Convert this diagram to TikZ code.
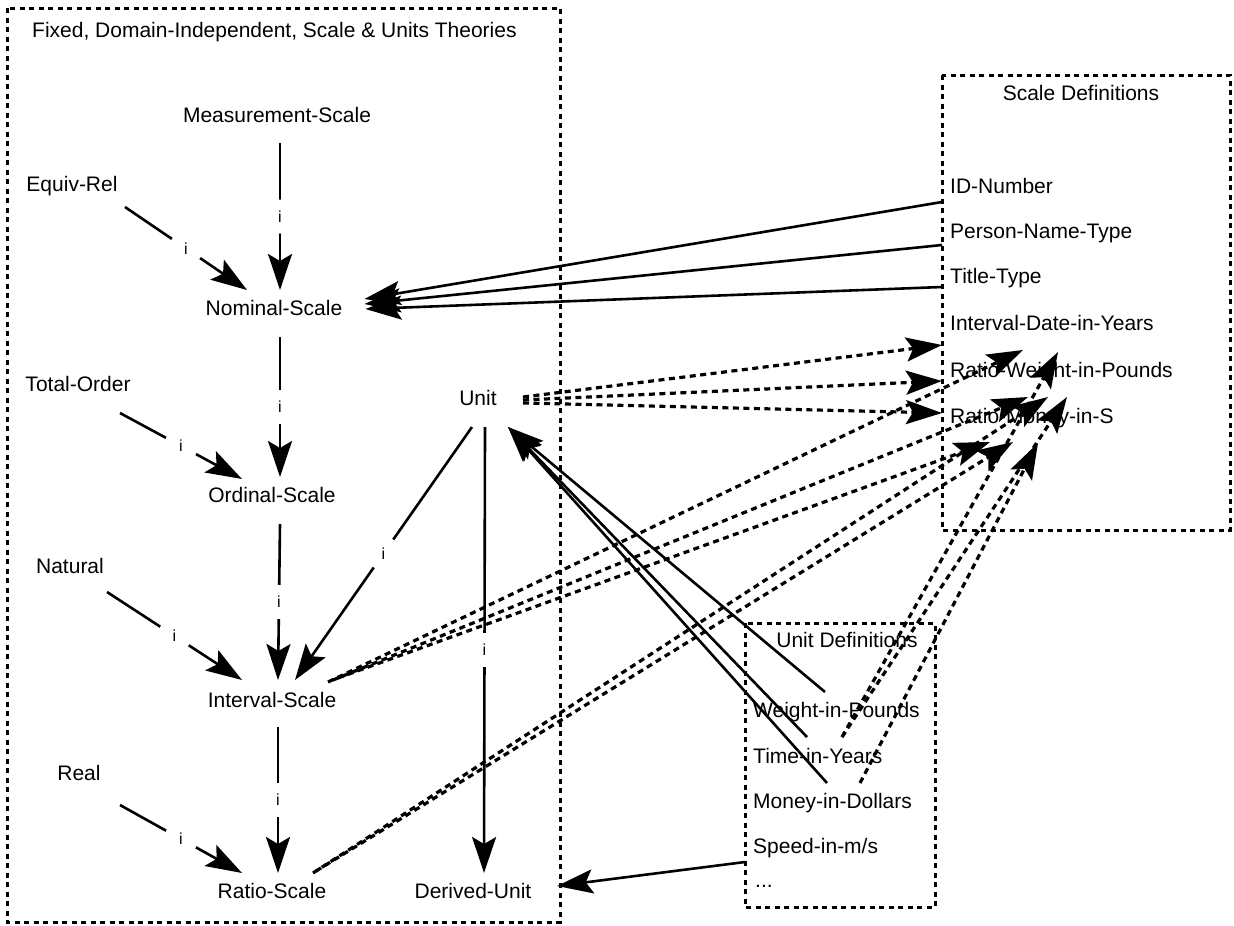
\documentclass[tikz,border=0pt]{standalone}
\usepackage{fontspec}
\setmainfont{Liberation Sans}
\usetikzlibrary{arrows.meta}
\begin{document}
\begin{tikzpicture}[x=1pt,y=-1pt,
  lbl/.style={inner sep=0pt, text height=15pt, text depth=4.5pt, font=\fontsize{21}{24}\selectfont},
  frame/.style={draw, line width=3pt, dash pattern=on 5pt off 4.5pt},
  tip/.style={-{Stealth[length=36pt,width=24pt,inset=7pt]}},
  isa/.style={tip, line width=2.6pt},
  link/.style={tip, line width=2.6pt},
  ref/.style={tip, line width=3.2pt, dash pattern=on 6pt off 4.5pt},
  ilab/.style={circle, fill=white, inner sep=0pt, minimum size=34pt, font=\fontsize{16}{18}\selectfont},
]
\useasboundingbox (0,0) rectangle (1234,926);

% frames
\draw[frame] (7,8) rectangle (560,922);
\draw[frame] (942,75) rectangle (1230,530);
\draw[frame] (745,623) rectangle (935,907);

% fixed theories
\node[lbl, anchor=west] (title) at (32,32) {Fixed, Domain-Independent, Scale \& Units Theories};
\node[lbl] (meas) at (277,117) {Measurement-Scale};
\node[lbl] (equiv) at (72,186) {Equiv-Rel};
\node[lbl] (nominal) at (274,310) {Nominal-Scale};
\node[lbl] (total) at (78,386) {Total-Order};
\node[lbl] (ordinal) at (272,497) {Ordinal-Scale};
\node[lbl] (natural) at (70,568) {Natural};
\node[lbl] (interval) at (272,702) {Interval-Scale};
\node[lbl] (real) at (79,775) {Real};
\node[lbl] (ratio) at (272,893) {Ratio-Scale};
\node[lbl] (derived) at (473,893) {Derived-Unit};
\node[lbl] (unit) at (478,400) {Unit};

% scale definitions
\node[lbl] (sdtitle) at (1081,95) {Scale Definitions};
\node[lbl, anchor=west] (idnum) at (950,188) {ID-Number};
\node[lbl, anchor=west] (person) at (950,233) {Person-Name-Type};
\node[lbl, anchor=west] (titletype) at (950,278) {Title-Type};
\node[lbl, anchor=west] (intdate) at (950,325) {Interval-Date-in-Years};
\node[lbl, anchor=west] (ratiow) at (950,372) {Ratio-Weight-in-Pounds};
\node[lbl, anchor=west] (ratiom) at (950,418) {Ratio-Money-in-S};

% unit definitions
\node[lbl] (udtitle) at (847,642) {Unit Definitions};
\node[lbl, anchor=west] (weight) at (753,712) {Weight-in-Pounds};
\node[lbl, anchor=west] (time) at (753,758) {Time-in-Years};
\node[lbl, anchor=west] (money) at (753,803) {Money-in-Dollars};
\node[lbl, anchor=west] (speed) at (753,848) {Speed-in-m/s};
\node[lbl, anchor=west] (more) at (755,882) {...};

% instance links of the scale hierarchy
\draw[isa] ([shift={(3,26)}]meas.center) -- node[ilab]{i} ([shift={(6,-20)}]nominal.center);
\draw[isa] ([shift={(6,27)}]nominal.center) -- node[ilab]{i} ([shift={(8,-20)}]ordinal.center);
\draw[isa] ([shift={(8,27)}]ordinal.center) -- node[ilab]{i} ([shift={(6,-22)}]interval.center);
\draw[isa] ([shift={(6,25)}]interval.center) -- node[ilab]{i} ([shift={(6,-20)}]ratio.center);
\draw[isa] ([shift={(53,21)}]equiv.center) -- node[ilab]{i} ([shift={(-27,-20)}]nominal.center);
\draw[isa] ([shift={(42,27)}]total.center) -- node[ilab]{i} ([shift={(-30,-18)}]ordinal.center);
\draw[isa] ([shift={(37,24)}]natural.center) -- node[ilab]{i} ([shift={(-30,-22)}]interval.center);
\draw[isa] ([shift={(41,30)}]real.center) -- node[ilab]{i} ([shift={(-30,-20)}]ratio.center);
\draw[isa] ([shift={(-6,27)}]unit.center) -- node[ilab]{i} ([shift={(23,-22)}]interval.center);
\draw[isa] ([shift={(7,27)}]unit.center) -- node[ilab]{i} ([shift={(11,-20)}]derived.center);

% scale definitions to nominal scale
\draw[link] ([shift={(-8,14)}]idnum.west) -- ([shift={(22,-11)}]nominal.east);
\draw[link] ([shift={(-8,12)}]person.west) -- ([shift={(22,-6)}]nominal.east);
\draw[link] ([shift={(-8,9)}]titletype.west) -- ([shift={(23,-1)}]nominal.east);

% unit definitions to unit / derived unit
\draw[link] ([shift={(72,-20)}]weight.west) -- ([shift={(30,27)}]unit.center);
\draw[link] ([shift={(54,-21)}]time.west) -- ([shift={(30,27)}]unit.center);
\draw[link] ([shift={(74,-20)}]money.west) -- ([shift={(30,27)}]unit.center);
\draw[link] ([shift={(-8,14)}]speed.west) -- ([shift={(84,-7)}]derived.center);

% references into the scale definitions
\draw[ref] ([shift={(45,-3)}]unit.center) -- ([shift={(-8,20)}]intdate.west);
\draw[ref] ([shift={(45,0)}]unit.center) -- ([shift={(-8,9)}]ratiow.west);
\draw[ref] ([shift={(45,3)}]unit.center) -- ([shift={(-8,-5)}]ratiom.west);
\draw[ref] ([shift={(56,-20)}]interval.center) -- ([shift={(73,-22)}]ratiow.west);
\draw[ref] ([shift={(61,-22)}]interval.center) -- ([shift={(78,-21)}]ratiom.west);
\draw[ref] ([shift={(66,-24)}]interval.center) -- ([shift={(40,24)}]ratiom.west);
\draw[ref] ([shift={(41,-20)}]ratio.center) -- ([shift={(98,-21)}]ratiom.west);
\draw[ref] ([shift={(44,-22)}]ratio.center) -- ([shift={(63,24)}]ratiom.west);
\draw[ref] ([shift={(89,-21)}]time.west) -- ([shift={(108,-20)}]ratiow.west);
\draw[ref] ([shift={(89,-21)}]time.west) -- ([shift={(117,-21)}]ratiom.west);
\draw[ref] ([shift={(107,-20)}]money.west) -- ([shift={(88,25)}]ratiom.west);
\end{tikzpicture}
\end{document}
